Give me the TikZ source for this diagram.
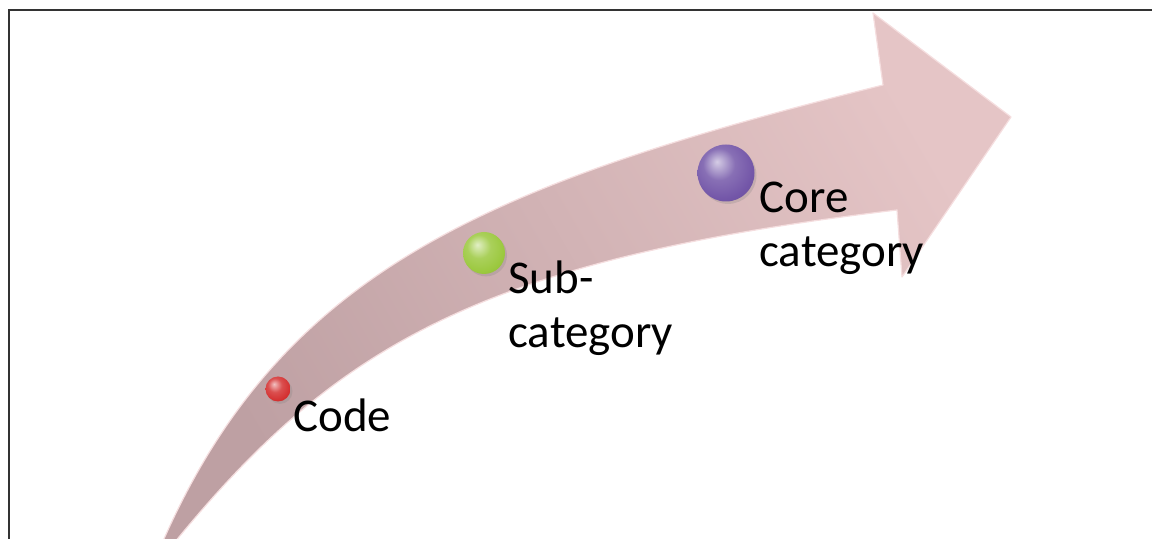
\documentclass[tikz,border=0pt]{standalone}
\usepackage{fontspec}
\setmainfont{Carlito}
\usetikzlibrary{shadows}

\definecolor{frameline}{HTML}{333333}
\definecolor{shafttail}{RGB}{190,160,163}
\definecolor{shafthead}{RGB}{229,197,198}
\definecolor{bevel}{RGB}{245,222,223}
\definecolor{codered}{RGB}{212,48,48}
\definecolor{subgreen}{RGB}{155,200,62}
\definecolor{corepurple}{RGB}{115,86,168}

% glossy sphere shading: bright spot upper left, slightly darker rim
\newcommand\glossshade[2]{%
  \pgfdeclareradialshading{#1}{\pgfpoint{-8bp}{10bp}}{%
    color(0bp)=(#2!30!white); color(14bp)=(#2!85!white);
    color(28bp)=(#2); color(45bp)=(#2!85!black); color(60bp)=(#2!65!black)}}
\glossshade{redgloss}{codered}
\glossshade{greengloss}{subgreen}
\glossshade{purplegloss}{corepurple}

\tikzset{
  frame/.style={draw=frameline, line width=1pt},
  arrowbody/.style={left color=shafttail, right color=shafthead, shading angle=120,
    draw=bevel, line width=0.6pt, line join=round},
  marker/.style={circle, inner sep=0pt, draw=none, shading=#1,
    drop shadow={opacity=0.25, shadow xshift=1pt, shadow yshift=-1.2pt}},
  label/.style={anchor=base west, inner sep=0pt, align=left,
    font=\fontsize{23.5pt}{27pt}\selectfont, text=black}
}

\begin{document}
\begin{tikzpicture}[x=0.5pt, y=-0.5pt]
  \useasboundingbox (0,0) rectangle (1152,539);

  % outer frame (left and top edges)
  \draw[frame] (9,560) -- (9,10) -- (1170,10);

  % curved block arrow
  \path[arrowbody]
    (160,548)
    .. controls (279,272) and (483,185) .. (883,85)
    -- (873,13)
    -- (1011,117)
    -- (902,277)
    -- (897,210)
    .. controls (477,260) and (333,347) .. (170,548)
    -- cycle;

  % stage markers
  \node[marker=redgloss, minimum size=12.5pt] (m1) at (278,389) {};
  \node[marker=greengloss, minimum size=21pt] (m2) at (484,253) {};
  \node[marker=purplegloss, minimum size=28.5pt] (m3) at (726,173) {};

  % stage labels (base anchor sits on the last line)
  \node[label] (t1) at (293,432) {Code};
  \node[label] (t2) at (508,348) {Sub-\\category};
  \node[label] (t3) at (759,267) {Core\\category};
\end{tikzpicture}
\end{document}
